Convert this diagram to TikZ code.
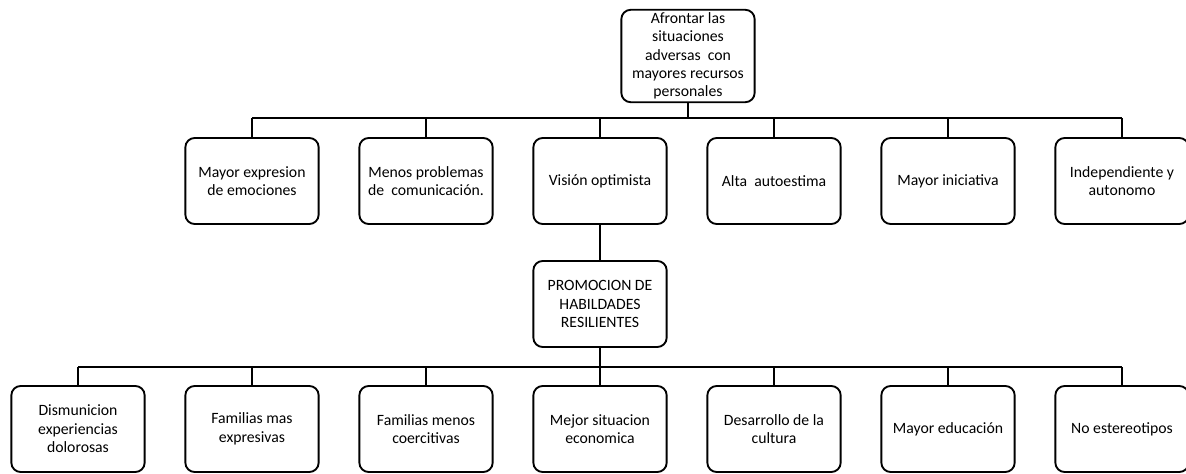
\documentclass[tikz,border=0pt]{standalone}
\usepackage{fontspec}
\setmainfont{Carlito}
\begin{document}
\begin{tikzpicture}[x=0.75pt,y=-0.75pt,
  box/.style={draw=black,line width=1.4pt,rounded corners=7pt,align=center,
    minimum width=100pt,minimum height=64.5pt,inner sep=2pt,
    font=\fontsize{11.8}{13.8}\selectfont},
  busline/.style={draw=black,line width=2pt},
  drop/.style={draw=black,line width=1.5pt}]
\useasboundingbox (0,0) rectangle (1186,474);
% top
\node[box] (top) at (688,56) {Afrontar las\\situaciones\\adversas~~con\\mayores recursos\\personales};
% row 1
\node[box] (a1) at (252,181) {Mayor expresion\\de emociones};
\node[box] (a2) at (426,181) {Menos problemas\\de~~comunicación.};
\node[box] (a3) at (600,181) {Visión optimista};
\node[box] (a4) at (774,181) {Alta~~autoestima};
\node[box] (a5) at (948,181) {Mayor iniciativa};
\node[box] (a6) at (1122,181) {Independiente y\\autonomo};
% middle
\node[box] (mid) at (600,304) {PROMOCION DE\\HABILDADES\\RESILIENTES};
% row 2
\node[box] (b1) at (78,429) {Dismunicion\\experiencias\\dolorosas};
\node[box] (b2) at (252,429) {Familias mas\\expresivas};
\node[box] (b3) at (426,429) {Familias menos\\coercitivas};
\node[box] (b4) at (600,429) {Mejor situacion\\economica};
\node[box] (b5) at (774,429) {Desarrollo de la\\cultura};
\node[box] (b6) at (948,429) {Mayor educación};
\node[box] (b7) at (1122,429) {No estereotipos};
% buses
\coordinate (bus1) at (0,118);
\coordinate (bus2) at (0,367);
\draw[busline] (top.south) -- (top.south |- bus1);
\draw[busline] (a1.north |- bus1) -- (a6.north |- bus1);
\foreach \n in {a1,a2,a3,a4,a5,a6}
  \draw[drop] (\n.north) -- (\n.north |- bus1);
\draw[busline] (a3.south) -- (mid.north);
\draw[busline] (mid.south) -- (mid.south |- bus2);
\draw[busline] (b1.north |- bus2) -- (b7.north |- bus2);
\foreach \n in {b1,b2,b3,b4,b5,b6,b7}
  \draw[drop] (\n.north) -- (\n.north |- bus2);
\end{tikzpicture}
\end{document}
